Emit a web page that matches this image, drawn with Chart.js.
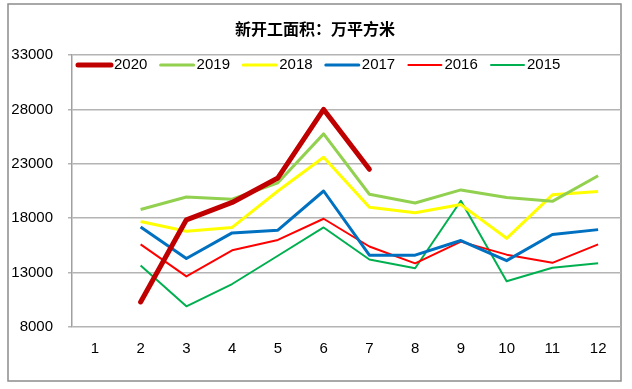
<!DOCTYPE html>
<html>
<head>
<meta charset="utf-8">
<script src="https://cdn.jsdelivr.net/npm/chart.js@4"></script>
<style>
  html, body { margin: 0; padding: 0; background: #fff; }
  #wrap { width: 632px; height: 389px; }
</style>
</head>
<body>
<div id="wrap"><canvas id="chart" width="632" height="389"></canvas></div>
<script>
const months = ['1', '2', '3', '4', '5', '6', '7', '8', '9', '10', '11', '12'];
const yTicks = [8000, 13000, 18000, 23000, 28000, 33000];

const s2020 = [null, 10300, 17850, 19450, 21700, 28000, 22500, null, null, null, null, null];
const s2019 = [null, 18800, 19950, 19750, 21250, 25750, 20200, 19400, 20600, 19900, 19550, 21900];
const s2018 = [null, 17700, 16800, 17150, 20500, 23600, 19000, 18500, 19250, 16150, 20150, 20450];
const s2017 = [null, 17200, 14300, 16650, 16900, 20500, 14600, 14600, 15950, 14100, 16500, 16950];
const s2016 = [null, 15600, 12650, 15050, 16000, 17950, 15400, 13850, 15850, 14650, 13900, 15600];
const s2015 = [null, 13650, 9900, 11950, 14550, 17150, 14200, 13400, 19600, 12200, 13450, 13850];

const title = '新开工面积：万平方米';

// frame + title
const framePlugin = {
    id: 'frame',
    beforeDraw(chart) {
        const ctx = chart.ctx;
        ctx.save();
        ctx.fillStyle = '#fff';
        ctx.fillRect(0, 0, chart.width, chart.height);
        ctx.strokeStyle = '#8c8c8c';
        ctx.lineWidth = 1.5;
        ctx.strokeRect(8, 4, 613, 377);
        ctx.fillStyle = '#000';
        ctx.font = 'bold 16px "Noto Sans CJK SC"';
        ctx.textAlign = 'center';
        ctx.textBaseline = 'middle';
        ctx.fillText(title, 315, 29);
        ctx.restore();
    }
};

// legend drawn inside the plot area
const legendPlugin = {
    id: 'innerLegend',
    afterDraw(chart) {
        const ctx = chart.ctx;
        ctx.save();
        ctx.font = '15px "Liberation Sans"';
        ctx.textBaseline = 'middle';
        ctx.textAlign = 'left';
        let x = 77;
        const y = 65;
        chart.data.datasets.forEach(ds => {
            ctx.strokeStyle = ds.borderColor;
            ctx.lineWidth = ds.borderWidth;
            ctx.lineCap = 'round';
            ctx.beginPath();
            ctx.moveTo(x + 1, y);
            ctx.lineTo(x + 34, y);
            ctx.stroke();
            ctx.fillStyle = '#000';
            ctx.fillText(ds.label, x + 37, y);
            x += 82.6;
        });
        ctx.restore();
    }
};

new Chart(document.getElementById('chart'), {
    type: 'line',
    data: {
        labels: months,
        datasets: [
            { label: '2020', data: s2020, borderColor: '#C00000', borderWidth: 5, borderCapStyle: 'round' },
            { label: '2019', data: s2019, borderColor: '#92D050', borderWidth: 3 },
            { label: '2018', data: s2018, borderColor: '#FFFF00', borderWidth: 3 },
            { label: '2017', data: s2017, borderColor: '#0070C0', borderWidth: 3 },
            { label: '2016', data: s2016, borderColor: '#FF0000', borderWidth: 2 },
            { label: '2015', data: s2015, borderColor: '#00B050', borderWidth: 2 }
        ].map(d => Object.assign({ pointRadius: 0, tension: 0, fill: false, borderJoinStyle: 'round' }, d))
    },
    options: {
        responsive: false,
        animation: false,
        layout: { padding: { left: 0, top: 55, right: 11, bottom: 0 } },
        plugins: {
            legend: { display: false },
            title: { display: false },
            tooltip: { enabled: false }
        },
        scales: {
            x: {
                offset: true,
                grid: { display: false, drawTicks: false },
                border: { display: false },
                ticks: { color: '#000', font: { family: 'Liberation Sans', size: 15 }, padding: 13, maxRotation: 0 },
                afterFit: s => { s.height = 62; }
            },
            y: {
                min: 8000,
                max: 33000,
                afterBuildTicks: s => { s.ticks = yTicks.map(v => ({ value: v })); },
                grid: { color: '#b4b4b4', lineWidth: 1.5, tickLength: 4 },
                border: { color: '#a0a0a0', width: 1.5 },
                ticks: {
                    color: '#000',
                    font: { family: 'Liberation Sans', size: 15 },
                    padding: 15,
                    callback: v => String(v)
                },
                afterFit: s => { s.width = 72; }
            }
        }
    },
    plugins: [framePlugin, legendPlugin]
});
</script>
</body>
</html>
